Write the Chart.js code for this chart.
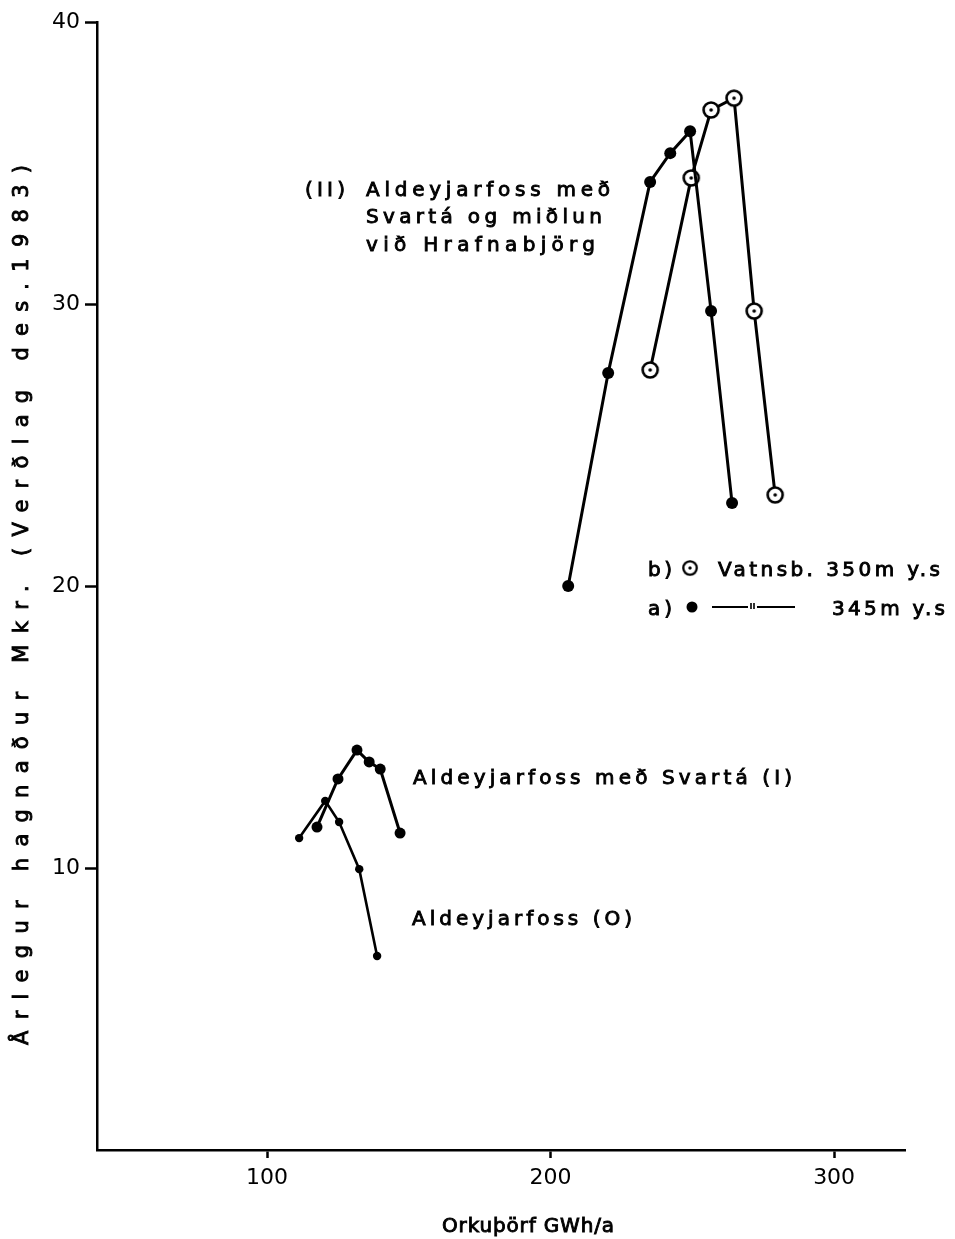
<!DOCTYPE html>
<html lang="is">
<head>
<meta charset="UTF-8">
<title>Árlegur hagnaður</title>
<script src="https://cdn.jsdelivr.net/npm/chart.js@4.4.1/dist/chart.umd.min.js"></script>
<style>
  html, body { margin: 0; padding: 0; background: #fff; }
  #wrap { width: 955px; height: 1239px; }
</style>
</head>
<body>
<div id="wrap"><canvas id="chart" width="955" height="1239"></canvas></div>
<script>
// (II) a) 345 m y.s  -- filled dots
var x2a = [206.2, 220.3, 235.1, 242.2, 249.2, 256.6, 264.0];
var y2a = [20.0, 27.55, 34.33, 35.35, 36.13, 29.75, 22.94];
// (II) b) 350 m y.s  -- open circles
var x2b = [235.1, 249.6, 256.6, 264.7, 271.8, 279.2];
var y2b = [27.66, 34.47, 36.88, 37.3, 29.75, 23.23];
// Aldeyjarfoss með Svartá (I)
var x1 = [117.6, 125.0, 131.7, 136.0, 139.9, 146.9];
var y1 = [11.45, 13.16, 14.18, 13.76, 13.51, 11.24];
// Aldeyjarfoss (O)
var x0 = [111.3, 120.5, 125.4, 132.5, 138.8];
var y0 = [11.06, 12.38, 11.63, 9.96, 6.88];

var xTicks = [100, 200, 300];
var yTicks = [10, 20, 30, 40];

function pts(xs, ys) {
  return xs.map(function (x, i) { return { x: x, y: ys[i] }; });
}

// open circle with a dot in the middle
var ring = document.createElement('canvas');
ring.width = 20; ring.height = 20;
(function () {
  var c = ring.getContext('2d');
  c.beginPath(); c.arc(10, 10, 7.5, 0, Math.PI * 2);
  c.fillStyle = '#fff'; c.fill();
  c.lineWidth = 2.6; c.strokeStyle = '#000'; c.stroke();
  c.beginPath(); c.arc(10, 10, 1.8, 0, Math.PI * 2);
  c.fillStyle = '#000'; c.fill();
})();

var FONT = '"DejaVu Sans", sans-serif';

// draw text stretched to a given width with letter spacing, slightly thickened
function spaced(ctx, text, x, y, width, size) {
  ctx.font = size + 'px ' + FONT;
  ctx.letterSpacing = '0px';
  var w = ctx.measureText(text).width;
  var n = Array.from(text).length;
  var s = n > 1 ? Math.max(0, (width - w) / (n - 1)) : 0;
  ctx.letterSpacing = s + 'px';
  ctx.lineWidth = 0.9;
  ctx.fillText(text, x, y);
  ctx.strokeText(text, x, y);
  ctx.letterSpacing = '0px';
}

var notes = {
  id: 'notes',
  afterDraw: function (chart) {
    var ctx = chart.ctx;
    ctx.save();
    ctx.fillStyle = '#000';
    ctx.strokeStyle = '#000';
    ctx.textAlign = 'left';
    ctx.textBaseline = 'alphabetic';

    spaced(ctx, '(II)', 305, 196, 40, 20);
    spaced(ctx, 'Aldeyjarfoss með', 366, 196, 244, 20);
    spaced(ctx, 'Svartá og miðlun', 366, 223, 236, 20);
    spaced(ctx, 'við Hrafnabjörg', 366, 251, 229, 20);

    spaced(ctx, 'Aldeyjarfoss með Svartá (I)', 413, 784, 379, 20);
    spaced(ctx, 'Aldeyjarfoss (O)', 412, 925, 220, 20);

    // legend
    spaced(ctx, 'b)', 648, 576, 24, 20);
    ctx.drawImage(ring, 690 - 9, 568 - 9, 18, 18);
    spaced(ctx, 'Vatnsb. 350m y.s', 718, 576, 222, 20);

    spaced(ctx, 'a)', 648, 615, 24, 20);
    ctx.beginPath(); ctx.arc(692, 607, 5.5, 0, Math.PI * 2); ctx.fill();
    ctx.lineWidth = 2.2;
    ctx.beginPath();
    ctx.moveTo(712, 607); ctx.lineTo(748, 607);
    ctx.moveTo(757, 607); ctx.lineTo(795, 607);
    ctx.stroke();
    ctx.lineWidth = 1.6;
    ctx.beginPath();
    ctx.moveTo(751, 603); ctx.lineTo(751, 609);
    ctx.moveTo(754, 603); ctx.lineTo(754, 609);
    ctx.stroke();
    spaced(ctx, '345m y.s', 832, 615, 113, 20);

    // axis titles
    spaced(ctx, 'Orkuþörf GWh/a', 442, 1232, 172, 20);
    ctx.translate(28, 1045);
    ctx.rotate(-Math.PI / 2);
    spaced(ctx, 'Årlegur hagnaður Mkr. (Verðlag des.1983)', 0, 0, 880, 21);
    ctx.restore();
  }
};

new Chart(document.getElementById('chart'), {
  type: 'scatter',
  data: {
    datasets: [
      { data: pts(x2a, y2a), showLine: true, borderColor: '#000', borderWidth: 3,
        pointBackgroundColor: '#000', pointBorderWidth: 0, pointRadius: 6 },
      { data: pts(x2b, y2b), showLine: true, borderColor: '#000', borderWidth: 3,
        pointStyle: ring },
      { data: pts(x1, y1), showLine: true, borderColor: '#000', borderWidth: 3,
        pointBackgroundColor: '#000', pointBorderWidth: 0, pointRadius: 5.5 },
      { data: pts(x0, y0), showLine: true, borderColor: '#000', borderWidth: 2.6,
        pointBackgroundColor: '#000', pointBorderWidth: 0, pointRadius: 4.2 }
    ]
  },
  options: {
    responsive: false,
    animation: false,
    layout: { padding: { left: 0, right: 50, top: 22, bottom: 0 } },
    plugins: { legend: { display: false }, tooltip: { enabled: false } },
    scales: {
      x: {
        type: 'linear', min: 40, max: 325,
        afterFit: function (s) { s.height = 89; },
        afterBuildTicks: function (s) { s.ticks = xTicks.map(function (v) { return { value: v }; }); },
        border: { color: '#000', width: 2.5 },
        grid: { drawOnChartArea: false, color: '#000', tickLength: 8, tickWidth: 2.5 },
        ticks: { color: '#000', padding: 7, maxRotation: 0, font: { family: FONT, size: 22 } }
      },
      y: {
        type: 'linear', min: 0, max: 40,
        afterFit: function (s) { s.width = 97; },
        afterBuildTicks: function (s) { s.ticks = yTicks.map(function (v) { return { value: v }; }); },
        border: { color: '#000', width: 2.5 },
        grid: { drawOnChartArea: false, color: '#000', tickLength: 12, tickWidth: 2.5 },
        ticks: { color: '#000', padding: 5, font: { family: FONT, size: 22 } }
      }
    }
  },
  plugins: [notes]
});
</script>
</body>
</html>
